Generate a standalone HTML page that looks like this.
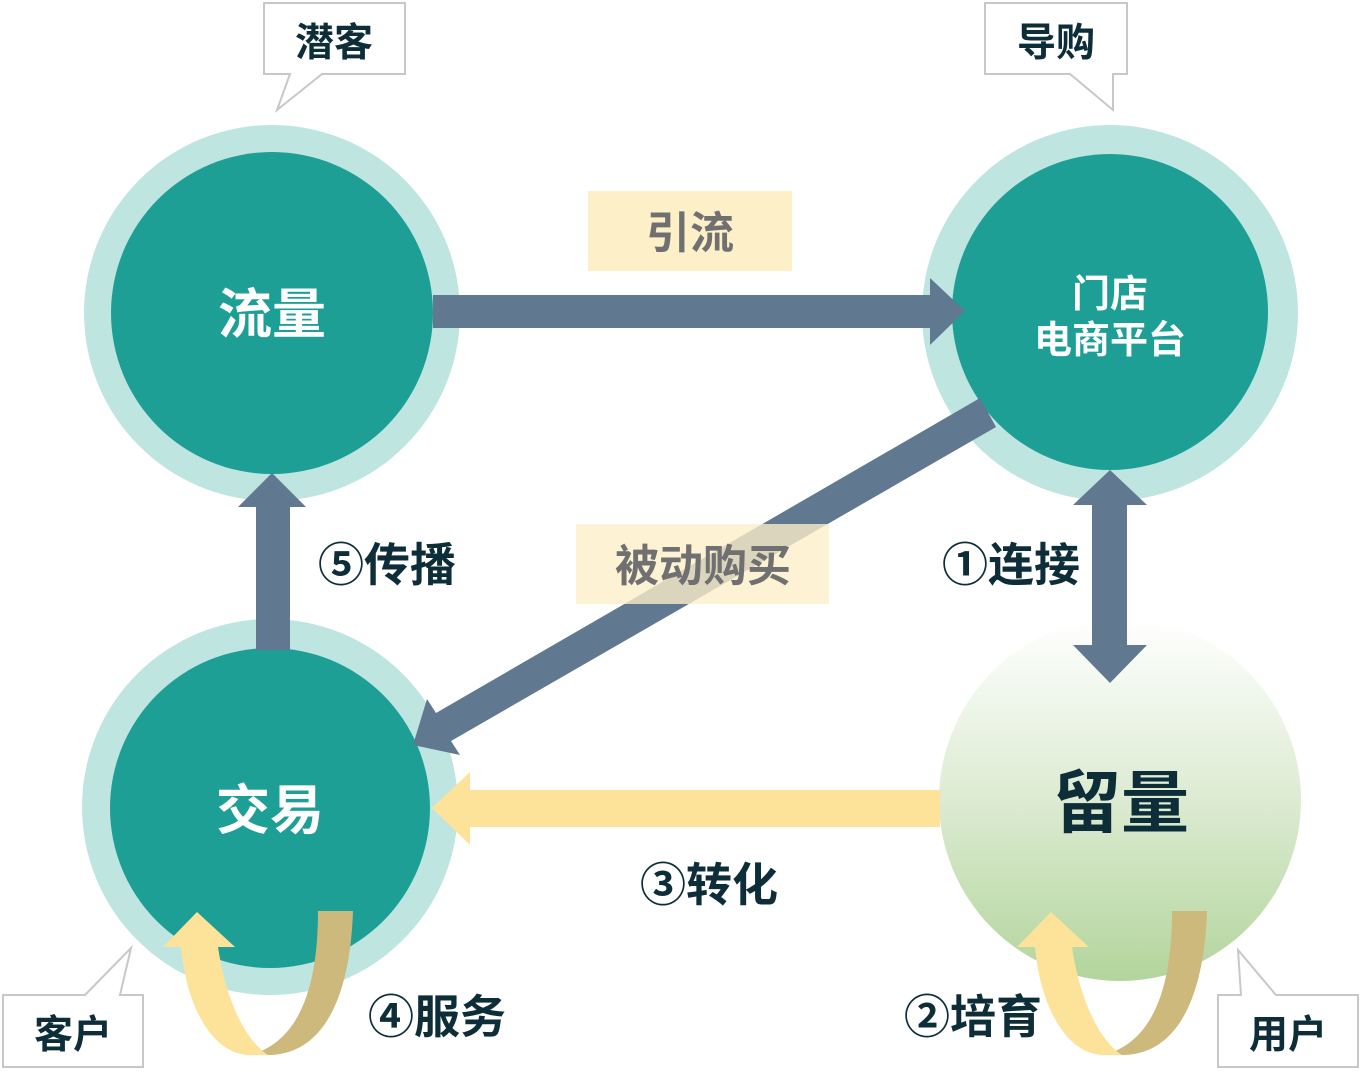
<!DOCTYPE html>
<html><head><meta charset="utf-8"><style>
html,body{margin:0;padding:0;background:#fff}
svg text{font-family:"Liberation Sans","Noto Sans CJK SC",sans-serif;font-weight:bold}
</style></head><body>
<svg width="1360" height="1070" viewBox="0 0 1360 1070" xmlns="http://www.w3.org/2000/svg">
<defs>
<linearGradient id="g" x1="0" y1="0" x2="0" y2="1">
<stop offset="0" stop-color="#ffffff"/><stop offset="0.5" stop-color="#dcebd2"/><stop offset="1" stop-color="#b3d59c"/>
</linearGradient>
</defs>
<circle cx="272" cy="313" r="188" fill="#bfe5e1"/>
<circle cx="272" cy="313" r="161" fill="#1d9f96"/>
<circle cx="1110" cy="313" r="188" fill="#bfe5e1"/>
<circle cx="1110" cy="312" r="158" fill="#1d9f96"/>
<circle cx="270" cy="807" r="188" fill="#bfe5e1"/>
<circle cx="270" cy="808" r="160" fill="#1d9f96"/>
<circle cx="1120" cy="800" r="181" fill="url(#g)"/>

<polygon points="433,295 930,295 930,278 965,311 930,345 930,328 433,328" fill="#607890"/>
<polygon points="980,398 996,427 451,741 460,755 413,745 427,699 436,713" fill="#607890"/>
<polygon points="256,650 256,507 238,507 272,473 306,507 290,507 290,650" fill="#607890"/>
<polygon points="1110,470 1147,505 1127,505 1127,645 1147,645 1110,683 1073,645 1092,645 1092,505 1073,505" fill="#607890"/>
<polygon points="940,790 470,790 470,772 432,808 470,845 470,827 940,827" fill="#fde39a"/>

<rect x="588" y="191" width="204" height="80" fill="#fdf0c8"/>
<text x="690" y="248" font-size="44" fill="#707070" text-anchor="middle">引流</text>
<rect x="576" y="524" width="253" height="80" fill="#fdf0c8" fill-opacity="0.78"/>
<text x="703" y="581" font-size="44" fill="#707070" text-anchor="middle">被动购买</text>

<g id="loop">
<path d="M318,911 L353,911 C350,1000 322,1055 268,1055 L250,1055 C298,1042 318,990 318,911 Z" fill="#cdb97c"/>
<path d="M181,947 L218,947 C226,1000 245,1040 268,1055 L250,1055 C212,1055 186,1005 181,947 Z" fill="#fde39a"/>
<polygon points="163,947 197,912 235,947" fill="#fde39a"/>
</g>
<use href="#loop" x="854"/>

<text x="272" y="333" font-size="54" fill="#fff" text-anchor="middle">流量</text>
<text x="1110" y="307" font-size="38" fill="#fff" text-anchor="middle">门店</text>
<text x="1110" y="353" font-size="38" fill="#fff" text-anchor="middle">电商平台</text>
<text x="270" y="829" font-size="54" fill="#fff" text-anchor="middle">交易</text>
<text x="1121" y="827" font-size="68" fill="#0d2e38" text-anchor="middle">留量</text>

<text x="318" y="581" font-size="46" fill="#0d2e38">⑤传播</text>
<text x="942" y="581" font-size="46" fill="#0d2e38">①连接</text>
<text x="640" y="901" font-size="46" fill="#0d2e38">③转化</text>
<text x="368" y="1033" font-size="46" fill="#0d2e38">④服务</text>
<text x="904" y="1033" font-size="46" fill="#0d2e38">②培育</text>

<g fill="#fff" stroke="#c8c8c8" stroke-width="2">
<path d="M264,3 H405 V74 H322 L277,110 L290,74 H264 Z"/>
<path d="M985,3 H1127 V74 H1113 V110 L1070,74 H985 Z"/>
<path d="M3,995 H85 L131,948 L120,995 H143 V1067 H3 Z"/>
<path d="M1218,995 H1241 L1238,950 L1276,995 H1358 V1067 H1218 Z"/>
</g>
<text x="334" y="56" font-size="39" fill="#0d2e38" text-anchor="middle">潜客</text>
<text x="1056" y="56" font-size="39" fill="#0d2e38" text-anchor="middle">导购</text>
<text x="73" y="1048" font-size="39" fill="#0d2e38" text-anchor="middle">客户</text>
<text x="1288" y="1048" font-size="39" fill="#0d2e38" text-anchor="middle">用户</text>
</svg>
</body></html>
